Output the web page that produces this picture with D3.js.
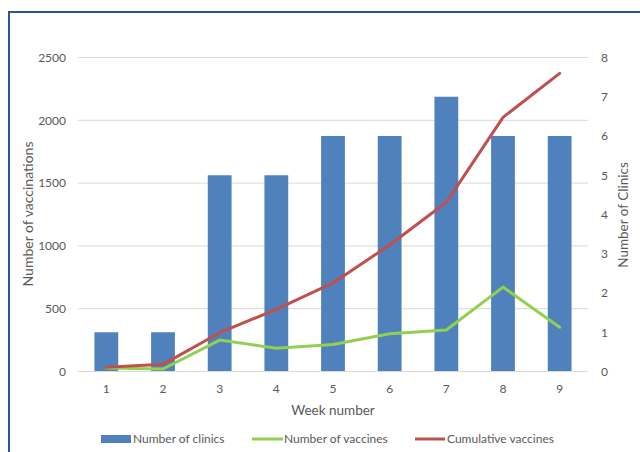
<!DOCTYPE html>
<html><head><meta charset="utf-8">
<script src="https://cdn.jsdelivr.net/npm/d3@7"></script>
<style>body{margin:0;background:#fff}svg{display:block}text{font-family:Lato,"Open Sans",sans-serif;fill:#595959}</style>
</head><body>
<script>
const weeks = [1,2,3,4,5,6,7,8,9];
const clinics = [1,1,5,5,6,6,7,6,6];
const vaccines = [28,20,250,185,215,300,330,672,352];
const cumulative = [33,57,309,495,705,1007,1347,2023,2374];
const leftTicks = [0,500,1000,1500,2000,2500];
const rightTicks = [0,1,2,3,4,5,6,7,8];
const legendLabels = ["Number of clinics","Number of vaccines","Cumulative vaccines"];

const W=640,H=452;
const svg=d3.select("body").append("svg").attr("width",W).attr("height",H);
// frame
svg.append("path").attr("d","M9,452V12H640").attr("fill","none").attr("stroke","#2F5496").attr("stroke-width",2);

const x=d3.scaleBand().domain(weeks).range([78,588]).paddingInner(0.58).paddingOuter(0.29);
const yL=d3.scaleLinear().domain([0,2500]).range([371.5,57.5]);
const yR=d3.scaleLinear().domain([0,8]).range([371.5,57.5]);

// grid
svg.append("g").selectAll("line").data(leftTicks.slice(1)).join("line")
 .attr("x1",78).attr("x2",588).attr("y1",d=>yL(d)).attr("y2",d=>yL(d))
 .attr("stroke","#D9D9D9").attr("stroke-width",1);

// bars
svg.append("g").selectAll("rect").data(weeks).join("rect")
 .attr("x",d=>x(d)).attr("width",x.bandwidth())
 .attr("y",(d,i)=>yR(clinics[i])).attr("height",(d,i)=>yR(0)-yR(clinics[i]))
 .attr("fill","#4F81BD");

// baseline
svg.append("line").attr("x1",78).attr("x2",588).attr("y1",yL(0)).attr("y2",yL(0)).attr("stroke","#D9D9D9");

const cx=d=>x(d)+x.bandwidth()/2;
const line=d3.line().x((d,i)=>cx(weeks[i])).y(d=>yL(d));
svg.append("path").datum(vaccines).attr("d",line).attr("fill","none").attr("stroke","#92D050").attr("stroke-width",3).attr("stroke-linejoin","round").attr("stroke-linecap","round");
svg.append("path").datum(cumulative).attr("d",line).attr("fill","none").attr("stroke","#C0504D").attr("stroke-width",3).attr("stroke-linejoin","round").attr("stroke-linecap","round");

const ff="Lato,'Open Sans',sans-serif";
// left axis
const axL=d3.axisLeft(yL).tickValues(leftTicks).tickFormat(d3.format("d")).tickSize(0).tickPadding(12);
const gL=svg.append("g").attr("transform","translate(78,0)").call(axL);
gL.select(".domain").remove();
gL.selectAll("text").attr("font-size",12).style("font-family",ff).attr("fill","#595959");

const axR=d3.axisRight(yR).tickValues(rightTicks).tickFormat(d3.format("d")).tickSize(0).tickPadding(13);
const gR=svg.append("g").attr("transform","translate(588,0)").call(axR);
gR.select(".domain").remove();
gR.selectAll("text").attr("font-size",12).style("font-family",ff).attr("fill","#595959");

const axB=d3.axisBottom(x).tickSize(0).tickPadding(13);
const gB=svg.append("g").attr("transform",`translate(0,${yL(0)})`).call(axB);
gB.select(".domain").remove();
gB.selectAll("text").attr("font-size",12).style("font-family",ff).attr("fill","#595959");

// titles
svg.append("text").attr("transform","translate(33,214) rotate(-90)").attr("text-anchor","middle").attr("font-size",14).text("Number of vaccinations");
svg.append("text").attr("transform","translate(628,215) rotate(-90)").attr("text-anchor","middle").attr("font-size",13.5).text("Number of Clinics");
svg.append("text").attr("x",333).attr("y",415).attr("text-anchor","middle").attr("font-size",13.5).text("Week number");

// legend
const lg=svg.append("g");
lg.append("rect").attr("x",101).attr("y",435).attr("width",30).attr("height",8).attr("fill","#4F81BD");
lg.append("text").attr("x",133).attr("y",443).attr("font-size",12).text(legendLabels[0]);
lg.append("line").attr("x1",252).attr("x2",283).attr("y1",439).attr("y2",439).attr("stroke","#92D050").attr("stroke-width",3);
lg.append("text").attr("x",284).attr("y",443).attr("font-size",12).text(legendLabels[1]);
lg.append("line").attr("x1",415).attr("x2",445).attr("y1",439).attr("y2",439).attr("stroke","#C0504D").attr("stroke-width",3);
lg.append("text").attr("x",447).attr("y",443).attr("font-size",12).text(legendLabels[2]);
</script>
</body></html>
